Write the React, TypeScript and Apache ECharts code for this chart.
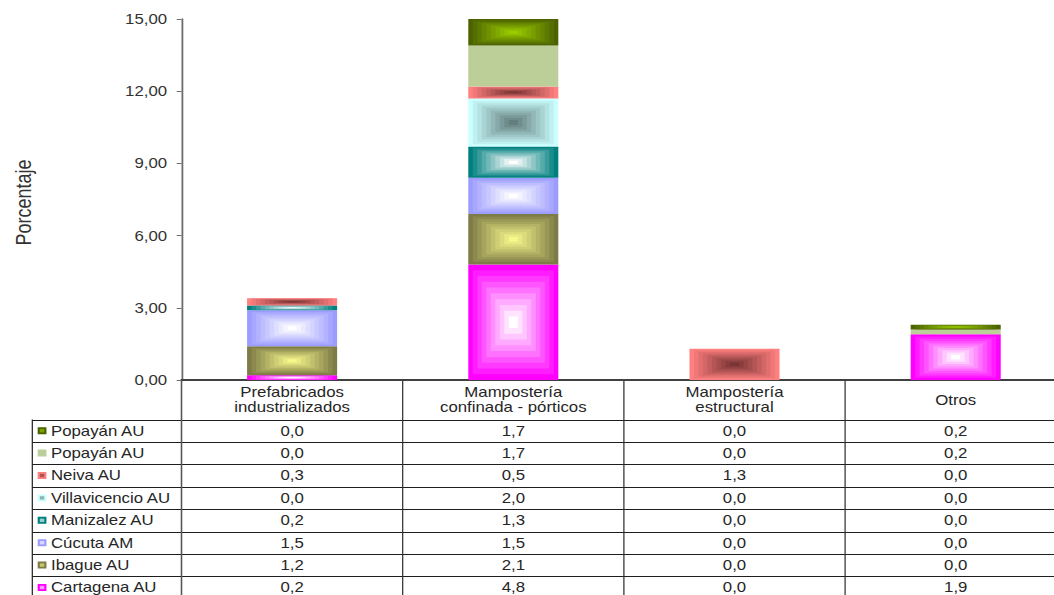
import React, { useEffect, useRef } from "react";
import * as echarts from "echarts";

// ---------- data ----------
const categories = [
  "Prefabricados\nindustrializados",
  "Mampostería\nconfinada - pórticos",
  "Mampostería\nestructural",
  "Otros",
];

// stack order: bottom -> top
const seriesNames = [
  "Cartagena AU",
  "Ibague AU",
  "Cúcuta AM",
  "Manizalez AU",
  "Villavicencio AU",
  "Neiva AU",
  "Popayán AU",
  "Popayán AU",
];
const cartagena = [0.2, 4.8, 0.0, 1.9];
const ibague = [1.2, 2.1, 0.0, 0.0];
const cucuta = [1.5, 1.5, 0.0, 0.0];
const manizalez = [0.2, 1.3, 0.0, 0.0];
const villavicencio = [0.0, 2.0, 0.0, 0.0];
const neiva = [0.3, 0.5, 1.3, 0.0];
const popayanLight = [0.0, 1.7, 0.0, 0.2];
const popayanDark = [0.0, 1.7, 0.0, 0.2];
const seriesValues = [cartagena, ibague, cucuta, manizalez, villavicencio, neiva, popayanLight, popayanDark];

// edge colour, centre colour (rectangular "from centre" gradient)
const seriesColors: [string, string][] = [
  ["#ff00ff", "#ffffff"],
  ["#7d7b46", "#f7f78c"],
  ["#9c9cff", "#ffffff"],
  ["#007f7f", "#ffffff"],
  ["#ccffff", "#647e7e"],
  ["#ff8080", "#7a3434"],
  ["#bccf99", "#bccf99"],
  ["#4c6200", "#9acc00"],
];

const Y_MIN = 0;
const Y_MAX = 15;
const Y_INTERVAL = 3;

// ---------- layout (unscaled coordinates; container is stretched 1.2x horizontally) ----------
const SX = 1.2;
const VIEW_W = 1054;
const W = 1090 / SX; // chart canvas extends a little past the visible page, like the source
const H = 595;
const GRID_LEFT = 181.5 / SX;
const COL_W = 221.2 / SX;
const GRID_TOP = 19;
const GRID_BOTTOM_Y = 380;
const TABLE_LEFT = 32.3 / SX;
const HEADER_BOTTOM = 419.5;
const ROW_H = 22.4;
const BAR_RATIO = 0.407;
const STEPS = 10;
const FONT = "14px 'Liberation Sans', Arial, sans-serif";

function hexToRgb(h: string) {
  const n = parseInt(h.slice(1), 16);
  return [(n >> 16) & 255, (n >> 8) & 255, n & 255];
}
function lerpColor(a: string, b: string, t: number) {
  const A = hexToRgb(a);
  const B = hexToRgb(b);
  const c = A.map((v, i) => Math.round(v + (B[i] - v) * t));
  return `rgb(${c[0]},${c[1]},${c[2]})`;
}
const fmt1 = (v: number) => v.toFixed(1).replace(".", ",");

export default function App() {
  const ref = useRef<HTMLDivElement>(null);

  useEffect(() => {
    if (!ref.current) return;
    const chart = echarts.init(ref.current, null, { renderer: "svg" });

    // stacked custom series
    const base = categories.map(() => 0);
    const series: any[] = seriesValues.map((vals, si) => {
      const data = vals.map((v, ci) => {
        const lo = base[ci];
        const hi = lo + v;
        base[ci] = hi;
        return [ci, lo, hi];
      });
      const [edge, center] = seriesColors[si];
      return {
        type: "custom",
        name: seriesNames[si],
        clip: true,
        encode: { x: 0, y: [1, 2] },
        data,
        renderItem: (params: any, api: any) => {
          const ci = api.value(0);
          const lo = api.value(1);
          const hi = Math.min(api.value(2), Y_MAX);
          if (hi - lo <= 0) return null;
          const p0 = api.coord([ci, lo]);
          const p1 = api.coord([ci, hi]);
          const bw = api.size([1, 0])[0] * BAR_RATIO;
          const x = p0[0] - bw / 2;
          const y = p1[1];
          const w = bw;
          const h = p0[1] - p1[1];
          const children: any[] = [];
          for (let i = 0; i < STEPS; i++) {
            const f = i / STEPS;
            children.push({
              type: "rect",
              shape: {
                x: x + (f * w) / 2,
                y: y + (f * h) / 2,
                width: w * (1 - f),
                height: h * (1 - f),
              },
              style: { fill: lerpColor(edge, center, i / (STEPS - 1)) },
            });
          }
          return { type: "group", children };
        },
      };
    });

    // table graphics
    const graphic: any[] = [];
    const nRows = seriesNames.length;
    const tableRight = GRID_LEFT + COL_W * categories.length;
    const tableBottom = HEADER_BOTTOM + ROW_H * nRows;
    const lineStyle = { stroke: "#1e1e1e", lineWidth: 1 };
    // horizontal lines
    for (let r = 0; r <= nRows; r++) {
      const y = Math.round(HEADER_BOTTOM + ROW_H * r) + 0.5;
      graphic.push({
        type: "line",
        silent: true,
        shape: { x1: TABLE_LEFT, y1: y, x2: tableRight, y2: y },
        style: lineStyle,
      });
    }
    // vertical lines
    graphic.push({
      type: "line",
      silent: true,
      shape: { x1: TABLE_LEFT, y1: HEADER_BOTTOM, x2: TABLE_LEFT, y2: tableBottom },
      style: lineStyle,
    });
    for (let c = 0; c <= categories.length; c++) {
      const x = GRID_LEFT + COL_W * c;
      graphic.push({
        type: "line",
        silent: true,
        shape: { x1: x, y1: GRID_BOTTOM_Y, x2: x, y2: tableBottom },
        style: { stroke: c === 0 ? "#555555" : "#2a2a2a", lineWidth: c === 0 ? 1.3 : 1 },
      });
    }
    // rows (top row = top of stack)
    for (let r = 0; r < nRows; r++) {
      const si = nRows - 1 - r;
      const cy = HEADER_BOTTOM + ROW_H * (r + 0.5);
      const [edge, center] = seriesColors[si];
      graphic.push({
        type: "rect",
        silent: true,
        shape: { x: 31.4, y: cy - 3.5, width: 7.3, height: 7 },
        style: { fill: edge },
      });
      graphic.push({
        type: "rect",
        silent: true,
        shape: { x: 33.2, y: cy - 1.7, width: 3.7, height: 3.4 },
        style: { fill: lerpColor(edge, center, 0.6) },
      });
      graphic.push({
        type: "text",
        silent: true,
        x: 42.5,
        y: cy,
        style: {
          text: seriesNames[si],
          font: FONT,
          fill: "#262626",
          align: "left",
          verticalAlign: "middle",
        },
      });
      seriesValues[si].forEach((v, ci) => {
        graphic.push({
          type: "text",
          silent: true,
          x: GRID_LEFT + COL_W * (ci + 0.5),
          y: cy,
          style: {
            text: fmt1(v),
            font: FONT,
            fill: "#262626",
            align: "center",
            verticalAlign: "middle",
          },
        });
      });
    }
    // y axis title
    graphic.push({
      type: "text",
      silent: true,
      x: 19.2,
      y: 202.5,
      rotation: Math.PI / 2,
      style: {
        text: "Porcentaje",
        font: "18px 'Liberation Sans', Arial, sans-serif",
        fill: "#333333",
        align: "center",
        verticalAlign: "middle",
      },
    });

    chart.setOption({
      animation: false,
      backgroundColor: "#ffffff",
      grid: {
        left: GRID_LEFT,
        top: GRID_TOP,
        width: COL_W * categories.length,
        height: GRID_BOTTOM_Y - GRID_TOP,
        containLabel: false,
      },
      xAxis: {
        type: "category",
        data: categories,
        axisLine: { show: true, lineStyle: { color: "#404040", width: 2 } },
        axisTick: { show: false },
        splitLine: { show: false },
        axisLabel: {
          interval: 0,
          fontSize: 14,
          lineHeight: 15,
          fontFamily: "'Liberation Sans', Arial, sans-serif",
          color: "#262626",
          verticalAlign: "middle",
          margin: 20,
        },
      },
      yAxis: {
        type: "value",
        min: Y_MIN,
        max: Y_MAX,
        interval: Y_INTERVAL,
        axisLine: { show: true, lineStyle: { color: "#6b6b6b", width: 1.5 } },
        axisTick: { show: true, length: 4, lineStyle: { color: "#6b6b6b" } },
        splitLine: { show: false },
        axisLabel: {
          fontSize: 14,
          fontFamily: "'Liberation Sans', Arial, sans-serif",
          color: "#333333",
          margin: 12,
          formatter: (v: number) => v.toFixed(2).replace(".", ","),
        },
      },
      series,
      graphic,
    });

    return () => chart.dispose();
  }, []);

  return (
    <div
      style={{
        position: "fixed",
        left: 0,
        top: 0,
        width: VIEW_W,
        height: H,
        overflow: "hidden",
        background: "#ffffff",
      }}
    >
      <div
        ref={ref}
        style={{
          position: "absolute",
          left: 0,
          top: 0,
          width: W,
          height: H,
          transform: `scaleX(${SX})`,
          transformOrigin: "0 0",
        }}
      />
    </div>
  );
}
